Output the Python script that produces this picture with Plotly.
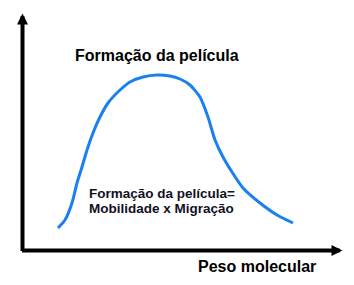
import plotly.graph_objects as go

# Schematic curve: film formation vs molecular weight (arbitrary units)
peso_molecular = [35.5, 42.5, 49.5, 54.5, 59.5, 64.5, 70.5, 77.5, 85.5, 97.5, 107.5, 120.5,
                  134.5, 147.5, 157.5, 167.5, 177.5, 185.5, 192.5, 200.5, 209.5, 220.5,
                  237.5, 254.5, 270.5]
formacao_pelicula = [22.5, 30.5, 47.5, 67.5, 83.5, 100.5, 117.5, 133.5, 147.5, 160.5, 168.5,
                     173.5, 175.5, 174.5, 171.5, 165.5, 153.5, 133.5, 110.5, 93.5, 78.5,
                     62.5, 47.5, 35.5, 27.5]

titulo = "Formação da película"
formula_l1 = "Formação da película="
formula_l2 = "Mobilidade x Migração"
rotulo_x = "Peso molecular"

FONT = "Arial, Liberation Sans, sans-serif"

fig = go.Figure()
fig.add_trace(go.Scatter(
    x=peso_molecular, y=formacao_pelicula, mode="lines",
    line=dict(color="#1a80f0", width=3, shape="spline", smoothing=0.6),
    hoverinfo="skip", showlegend=False,
))

# axes as arrows
fig.add_annotation(x=0, y=237, ax=0, ay=-2, xref="x", yref="y", axref="x", ayref="y",
                   showarrow=True, arrowhead=2, arrowsize=0.55, arrowwidth=4,
                   arrowcolor="black", text="", standoff=0, startstandoff=0)
fig.add_annotation(x=320, y=0, ax=-2, ay=0, xref="x", yref="y", axref="x", ayref="y",
                   showarrow=True, arrowhead=2, arrowsize=0.55, arrowwidth=4,
                   arrowcolor="black", text="", standoff=0, startstandoff=0)

fig.add_annotation(x=134, y=195.5, xref="x", yref="y", text="<b>" + titulo + "</b>",
                   showarrow=False, font=dict(family=FONT, size=16, color="black"))
fig.add_annotation(x=64.5, y=57.5, xref="x", yref="y", text="<b>" + formula_l1 + "</b>",
                   showarrow=False, xanchor="left",
                   font=dict(family=FONT, size=13.5, color="#111122"))
fig.add_annotation(x=64.5, y=42.5, xref="x", yref="y", text="<b>" + formula_l2 + "</b>",
                   showarrow=False, xanchor="left",
                   font=dict(family=FONT, size=13.5, color="#111122"))
fig.add_annotation(x=234, y=-15.5, xref="x", yref="y", text="<b>" + rotulo_x + "</b>",
                   showarrow=False, font=dict(family=FONT, size=16, color="black"))

fig.update_layout(
    width=354, height=285, margin=dict(l=0, r=0, t=0, b=0),
    paper_bgcolor="white", plot_bgcolor="white",
    xaxis=dict(range=[-22.5, 331.5], visible=False, fixedrange=True),
    yaxis=dict(range=[-34.5, 250.5], visible=False, fixedrange=True),
)
fig.write_html("out.html")
